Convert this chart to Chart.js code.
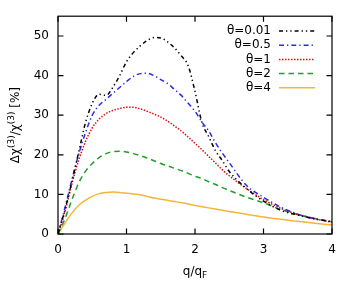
<!DOCTYPE html>
<html>
<head>
<meta charset="utf-8">
<script src="https://cdn.jsdelivr.net/npm/chart.js@4"></script>
<style>
  html, body { margin: 0; padding: 0; background: #fff; }
  #wrap { width: 356px; height: 295px; }
</style>
</head>
<body>
<div id="wrap"><canvas id="chi3Chart"></canvas></div>
<script>
// q/qF sample points
const qValues = [0, 0.1, 0.2, 0.3, 0.4, 0.5, 0.6, 0.7, 0.8, 0.9, 1.0, 1.1, 1.2, 1.3, 1.4, 1.5, 1.6, 1.7, 1.8, 1.9,
                 2.0, 2.1, 2.2, 2.3, 2.4, 2.5, 2.75, 3.0, 3.25, 3.5, 3.75, 4.0];

const theta001 = [0, 6, 13, 20.5, 28, 33, 35.3, 35, 37, 40, 43.5, 45.8, 47.5, 48.8, 49.6, 49.5, 48.5, 47, 45, 42.5,
                  36, 28.2, 24.6, 21, 18.5, 15.8, 11.5, 8.3, 6, 4.8, 3.8, 3.1];
const theta05 = [0, 6.5, 13.5, 20, 25.5, 30, 32.5, 34, 35.5, 37, 38.5, 39.8, 40.5, 40.6, 40, 39, 38, 36.5, 35, 33,
                 31, 28.3, 26, 23, 20.4, 18, 12.3, 9.3, 6.8, 5, 3.9, 3.1];
const theta1 = [0, 5.5, 12.5, 18.5, 23.3, 26.8, 29, 30.4, 31.2, 31.7, 32, 32, 31.6, 31, 30.3, 29.5, 28.5, 27.3, 26, 24.5,
                22.9, 21.3, 19.6, 17.9, 16.2, 14.7, 11.5, 8.7, 6.5, 4.9, 3.8, 3.0];
const theta2 = [0, 3.8, 8.5, 12.8, 15.8, 17.8, 19.3, 20.3, 20.8, 20.9, 20.7, 20.3, 19.8, 19.2, 18.5, 17.8, 17.2, 16.6, 16, 15.3,
                14.6, 14, 13.2, 12.5, 11.7, 11, 9.3, 7.9, 6.2, 4.9, 3.9, 3.1];
const theta4 = [0, 2.7, 5.2, 7.2, 8.5, 9.5, 10.2, 10.5, 10.6, 10.5, 10.3, 10.1, 9.9, 9.5, 9.1, 8.8, 8.5, 8.2, 7.9, 7.6,
                7.2, 6.9, 6.6, 6.3, 6, 5.7, 5, 4.3, 3.7, 3.2, 2.7, 2.25];

const seriesLabels = ['θ=0.01', 'θ=0.5', 'θ=1', 'θ=2', 'θ=4'];
const xTicks = [0, 1, 2, 3, 4];
const yTicks = [0, 10, 20, 30, 40, 50];

const FONT = '"DejaVu Sans", sans-serif';

const styles = [
    { color: '#000000', dash: [4, 3, 1.3, 3, 1.3, 3] },
    { color: '#2a2ae8', dash: [5, 3, 1.3, 3] },
    { color: '#e01010', dash: [1.5, 1.5] },
    { color: '#1e9e2a', dash: [5.5, 4] },
    { color: '#f5b53c', dash: [] }
];

const allSeries = [theta001, theta05, theta1, theta2, theta4];

const datasets = allSeries.map((values, i) => ({
    label: seriesLabels[i],
    data: qValues.map((q, j) => ({ x: q, y: values[j] })),
    borderColor: styles[i].color,
    borderDash: styles[i].dash,
    borderWidth: 1.5,
    pointRadius: 0,
    fill: false,
    cubicInterpolationMode: 'monotone'
}));

// frame, inward ticks, legend and axis titles (gnuplot look)
const framePlugin = {
    id: 'frame',
    afterDraw(chart) {
        const ctx = chart.ctx;
        const a = chart.chartArea;
        const xs = chart.scales.x;
        const ys = chart.scales.y;
        ctx.save();
        ctx.strokeStyle = '#000';
        ctx.lineWidth = 1.2;
        ctx.setLineDash([]);
        ctx.strokeRect(a.left, a.top, a.right - a.left, a.bottom - a.top);

        const tl = 5.5;
        ctx.beginPath();
        xTicks.forEach(v => {
            const px = xs.getPixelForValue(v);
            ctx.moveTo(px, a.bottom); ctx.lineTo(px, a.bottom - tl);
            ctx.moveTo(px, a.top); ctx.lineTo(px, a.top + tl);
        });
        yTicks.forEach(v => {
            const py = ys.getPixelForValue(v);
            ctx.moveTo(a.left, py); ctx.lineTo(a.left + tl, py);
            ctx.moveTo(a.right, py); ctx.lineTo(a.right - tl, py);
        });
        ctx.stroke();

        // legend
        ctx.font = '12px ' + FONT;
        ctx.fillStyle = '#000';
        ctx.textAlign = 'right';
        ctx.textBaseline = 'middle';
        seriesLabels.forEach((lab, i) => {
            const y = 31 + i * 14.2;
            ctx.fillText(lab, 271, y);
            ctx.beginPath();
            ctx.strokeStyle = styles[i].color;
            ctx.lineWidth = 1.5;
            ctx.setLineDash(styles[i].dash);
            ctx.moveTo(279, y);
            ctx.lineTo(315, y);
            ctx.stroke();
        });
        ctx.setLineDash([]);

        // x title: q/qF
        const cx = (a.left + a.right) / 2;
        ctx.textAlign = 'left';
        ctx.textBaseline = 'alphabetic';
        ctx.font = '12px ' + FONT;
        const w1 = ctx.measureText('q/q').width;
        ctx.font = '9px ' + FONT;
        const w2 = ctx.measureText('F').width;
        let x0 = cx - (w1 + w2) / 2;
        ctx.font = '12px ' + FONT;
        ctx.fillText('q/q', x0, 275);
        ctx.font = '9px ' + FONT;
        ctx.fillText('F', x0 + w1, 278);

        // y title: Δχ(3)/χ(3) [%]
        const parts = [
            { t: 'Δχ', sup: false }, { t: '(3)', sup: true },
            { t: '/χ', sup: false }, { t: '(3)', sup: true },
            { t: ' [%]', sup: false }
        ];
        let total = 0;
        parts.forEach(p => {
            ctx.font = (p.sup ? '9px ' : '12px ') + FONT;
            p.w = ctx.measureText(p.t).width;
            total += p.w;
        });
        ctx.translate(19, (a.top + a.bottom) / 2);
        ctx.rotate(-Math.PI / 2);
        let px = -total / 2;
        parts.forEach(p => {
            ctx.font = (p.sup ? '9px ' : '12px ') + FONT;
            ctx.fillText(p.t, px, p.sup ? -5 : 0);
            px += p.w;
        });
        ctx.restore();
    }
};

new Chart(document.getElementById('chi3Chart'), {
    type: 'line',
    data: { datasets: datasets },
    options: {
        responsive: true,
        maintainAspectRatio: false,
        animation: false,
        layout: { padding: { top: 15, right: 24, left: 0, bottom: 0 } },
        plugins: {
            legend: { display: false },
            tooltip: { enabled: false }
        },
        scales: {
            x: {
                type: 'linear',
                min: 0,
                max: 4,
                afterFit: (s) => { s.height = 61; },
                afterBuildTicks: (s) => { s.ticks = xTicks.map(v => ({ value: v })); },
                grid: { display: false, drawTicks: false },
                border: { display: false },
                ticks: { padding: 9, color: '#000', font: { family: FONT, size: 12 } }
            },
            y: {
                min: 0,
                max: 55,
                afterFit: (s) => { s.width = 58; },
                afterBuildTicks: (s) => { s.ticks = yTicks.map(v => ({ value: v })); },
                grid: { display: false, drawTicks: false },
                border: { display: false },
                ticks: { padding: 9, color: '#000', font: { family: FONT, size: 12 } }
            }
        }
    },
    plugins: [framePlugin]
});
</script>
</body>
</html>
